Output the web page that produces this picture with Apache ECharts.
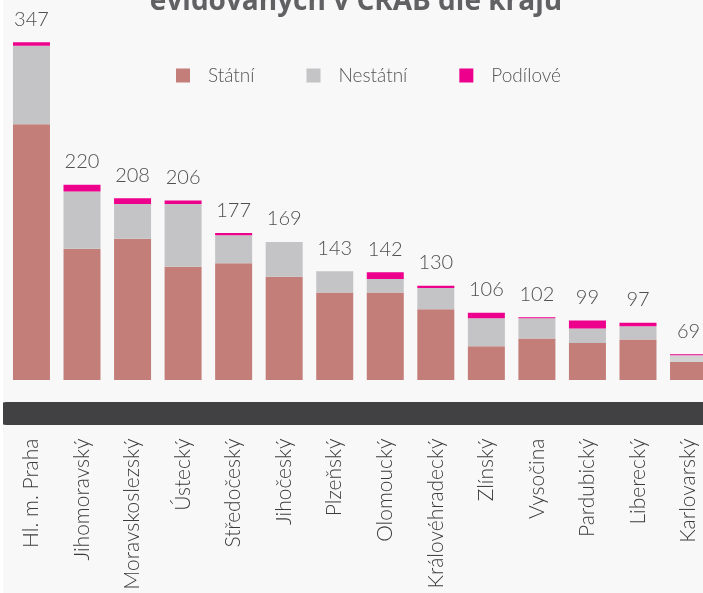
<!DOCTYPE html>
<html>
<head>
<meta charset="utf-8">
<script src="https://cdn.jsdelivr.net/npm/echarts@6/dist/echarts.min.js"></script>
<style>
  html, body { margin: 0; padding: 0; background: #ffffff; overflow: hidden; width: 703px; height: 593px; }
  #chart { position: absolute; left: 3px; top: 0; width: 720px; height: 593px; background: #f8f8f8; }
</style>
</head>
<body>
<div id="chart"></div>
<script>
const categories = ['Hl. m. Praha', 'Jihomoravský', 'Moravskoslezský', 'Ústecký', 'Středočeský', 'Jihočeský', 'Plzeňský', 'Olomoucký', 'Královéhradecký', 'Zlínský', 'Vysočina', 'Pardubický', 'Liberecký', 'Karlovarský'];
const statni    = [274, 163, 172, 147, 150, 138, 124, 124, 109, 76, 83, 79, 82, 62];
const nestatni  = [70, 51, 31, 56, 25, 31, 19, 12, 19, 25, 18, 13, 12, 6];
const podilove  = [3, 6, 5, 3, 2, 0, 0, 6, 2, 5, 1, 7, 3, 1];
const totals    = [347, 220, 208, 206, 177, 169, 143, 142, 130, 106, 102, 99, 97, 69];
const titleText = 'evidovaných v CRAB dle krajů';

const chart = echarts.init(document.getElementById('chart'), null, { renderer: 'canvas' });
const font = 'Lato, "Open Sans", "DejaVu Sans", sans-serif';

chart.setOption({
  backgroundColor: '#f8f8f8',
  animation: false,
  title: {
    text: titleText,
    left: 348,
    textAlign: 'center',
    top: -17,
    textStyle: { fontFamily: '"Open Sans", sans-serif', fontWeight: 'bold', fontSize: 28, color: '#616163' }
  },
  legend: {
    left: 168,
    top: 61,
    itemWidth: 14,
    itemHeight: 14,
    itemGap: 52,
    icon: 'rect',
    textStyle: { fontFamily: font, fontSize: 19, fontWeight: 300, color: '#555555', padding: [0, 0, 0, 13] },
    data: ['Státní', 'Nestátní', 'Podílové']
  },
  grid: { left: 3.2, width: 707.6, top: 39, bottom: 213, outerBoundsMode: 'none', containLabel: false },
  xAxis: {
    type: 'category',
    data: categories,
    offset: 33.5,
    axisLine: { lineStyle: { color: '#414042', width: 23 } },
    axisTick: { show: false },
    axisLabel: {
      rotate: 90,
      margin: 25,
      interval: 0,
      fontFamily: font,
      fontSize: 21,
      fontWeight: 300,
      color: '#3a3a3a'
    }
  },
  yAxis: { type: 'value', min: 46, max: 350, show: false, splitLine: { show: false } },
  series: [
    {
      name: 'Státní', type: 'bar', stack: 'total', barWidth: 37,
      itemStyle: { color: '#c47e7a' },
      data: statni
    },
    {
      name: 'Nestátní', type: 'bar', stack: 'total', barWidth: 37,
      color: '#c4c4c6',
      itemStyle: { color: function (p) { return p.dataIndex === categories.length - 1 ? '#d3d3d4' : '#c4c4c6'; } },
      data: nestatni
    },
    {
      name: 'Podílové', type: 'bar', stack: 'total', barWidth: 37,
      itemStyle: { color: '#ec008c' },
      label: {
        show: true,
        position: 'top',
        distance: 13,
        fontFamily: font,
        fontSize: 20,
        fontWeight: 300,
        color: '#505050',
        formatter: function (p) { return String(totals[p.dataIndex]); }
      },
      data: podilove
    }
  ]
});
</script>
</body>
</html>
